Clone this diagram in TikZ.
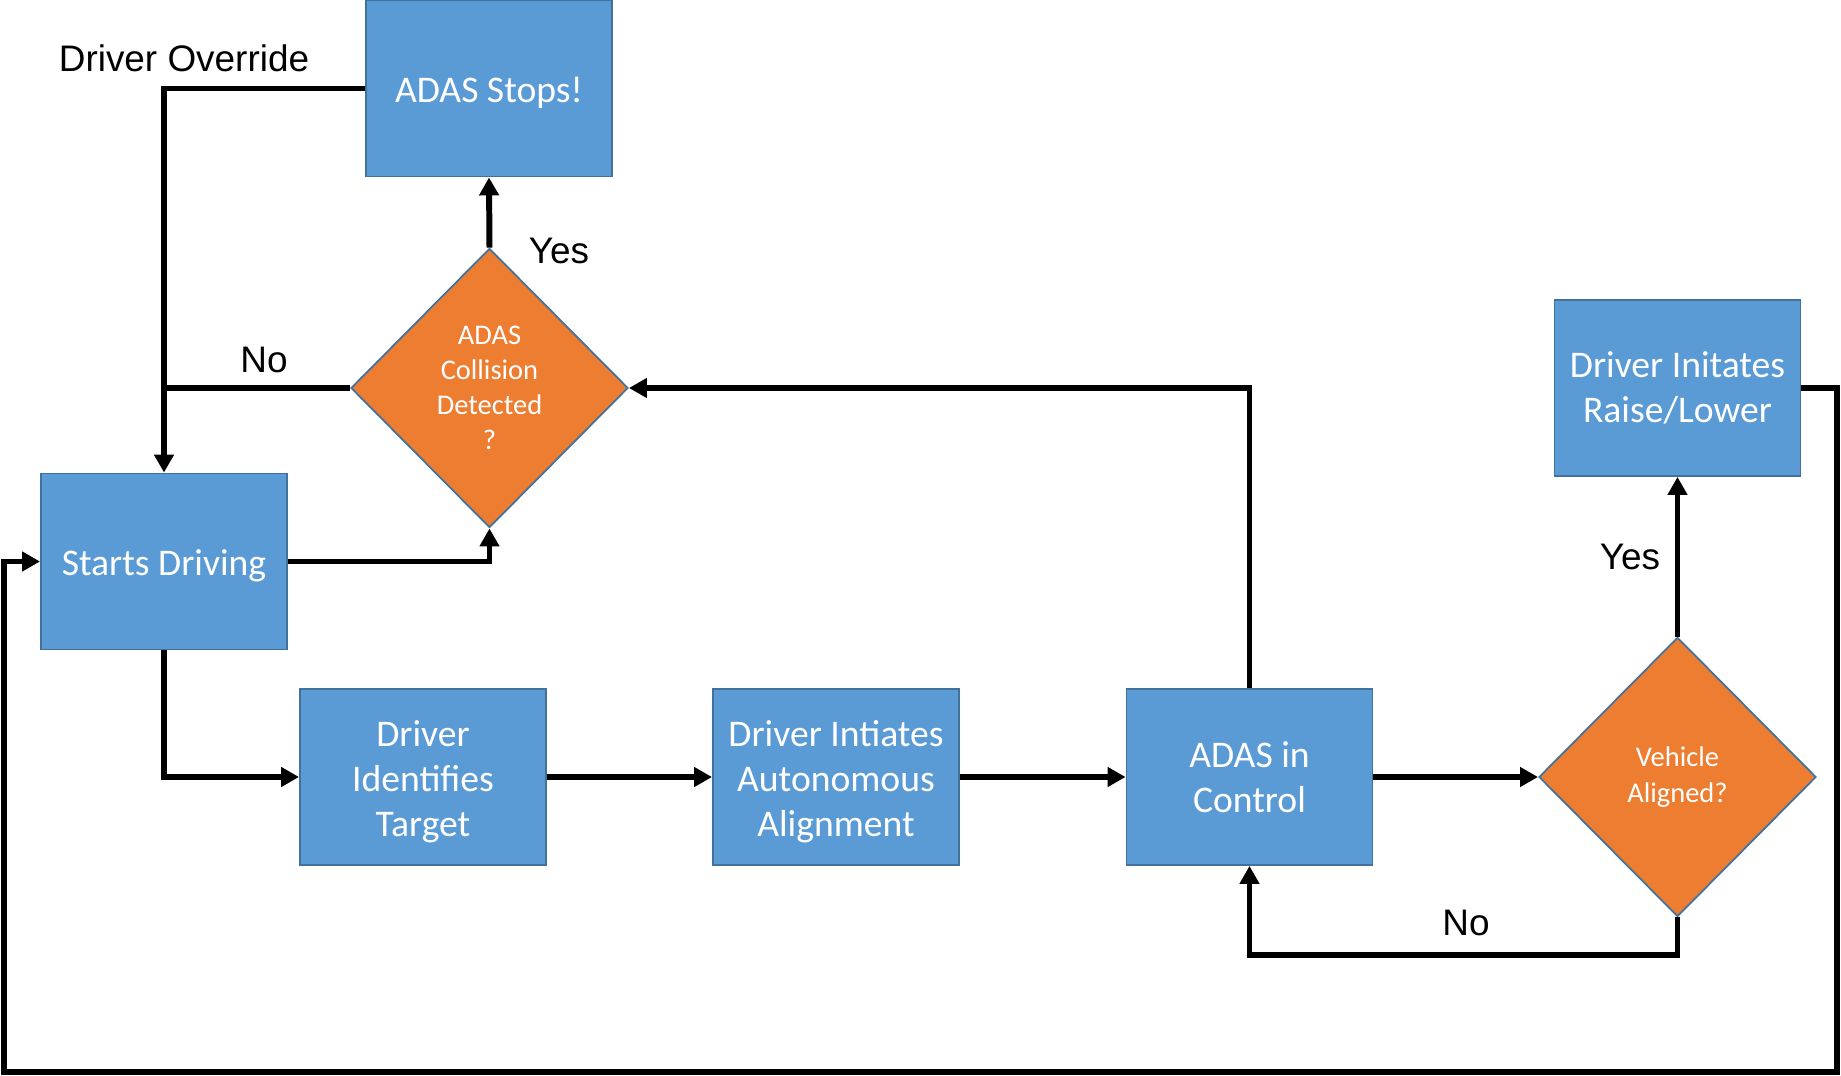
\documentclass[tikz,border=0pt]{standalone}
\usepackage{fontspec}
\setmainfont{Carlito}
\newfontfamily\labelfont{Liberation Sans}
\usetikzlibrary{arrows.meta, shapes.geometric, calc}
\definecolor{boxblue}{HTML}{5B9BD5}
\definecolor{edgeblue}{HTML}{41719C}
\definecolor{askorange}{HTML}{ED7D31}
\newcommand{\topfill}{\rule{0pt}{0.35cm}}

\begin{document}
\begin{tikzpicture}[x=0.01cm, y=-0.01cm,
	stepbox/.style={draw=edgeblue, line width=0.5pt, fill=boxblue, text=white, minimum width=2.46cm, minimum height=1.76cm, inner sep=0pt, align=center, font=\fontsize{10.7}{12.8}\selectfont},
	askbox/.style={diamond, draw=edgeblue, line width=0.5pt, fill=askorange, text=white, minimum width=2.77cm, minimum height=2.79cm, inner sep=0pt, align=center, font=\fontsize{8.1}{10}\selectfont},
	flow/.style={line width=1.7pt, -{Triangle[length=0.18cm,width=0.19cm]}},
	plain/.style={line width=1.7pt},
	lbl/.style={inner sep=0pt, font=\labelfont\fontsize{10.5}{12}\selectfont}]
			\useasboundingbox (0,0) rectangle (1841,1076);
			\node[stepbox] (stops) at (489,88.5) {\topfill ADAS Stops!};
			\node[askbox] (collision) at (489.5,388) {ADAS\\Collision\\Detected\\?};
			\node[stepbox] (start) at (164,561.5) {\topfill Starts Driving};
			\node[stepbox] (identify) at (423,777) {\topfill Driver\\Identifies\\Target};
			\node[stepbox] (initiate) at (836,777) {\topfill Driver Intiates\\Autonomous\\Alignment};
			\node[stepbox] (control) at (1249.5,777) {ADAS in\\Control};
			\node[askbox] (aligned) at (1677.5,777) {Vehicle\\Aligned?};
			\node[stepbox] (raise) at (1677.5,388) {Driver Initates\\Raise/Lower};
			\coordinate (outerSE) at (1837,1072);
			\coordinate (outerSW) at (4,1072);
			\node[lbl] (override) at (184,58) {Driver Override};
			\node[lbl] (yesup) at (559,251) {Yes};
			\node[lbl] (noleft) at (264,360) {No};
			\node[lbl] (yesright) at (1630,557) {Yes};
			\node[lbl] (noback) at (1466,923) {No};
			\draw[flow] (stops.west) -| (start.north);
			\draw[plain] (collision.west) -- (collision.west -| start.north);
			\draw[flow] (collision.north) -- (stops.south);
			\draw[flow] (start.east) -| (collision.south);
			\draw[flow] (start.south) |- (identify.west);
			\draw[flow] (identify) -- (initiate);
			\draw[flow] (initiate) -- (control);
			\draw[flow] (control) -- (aligned);
			\draw[flow] (control.north) |- (collision.east);
			\draw[flow] (aligned.north) -- (raise.south);
			\draw[flow] (aligned.south) -- ++(0,38) -| (control.south);
			\draw[flow] (raise.east) -| (outerSE) -- (outerSW) |- (start.west);
\end{tikzpicture}
\end{document}
